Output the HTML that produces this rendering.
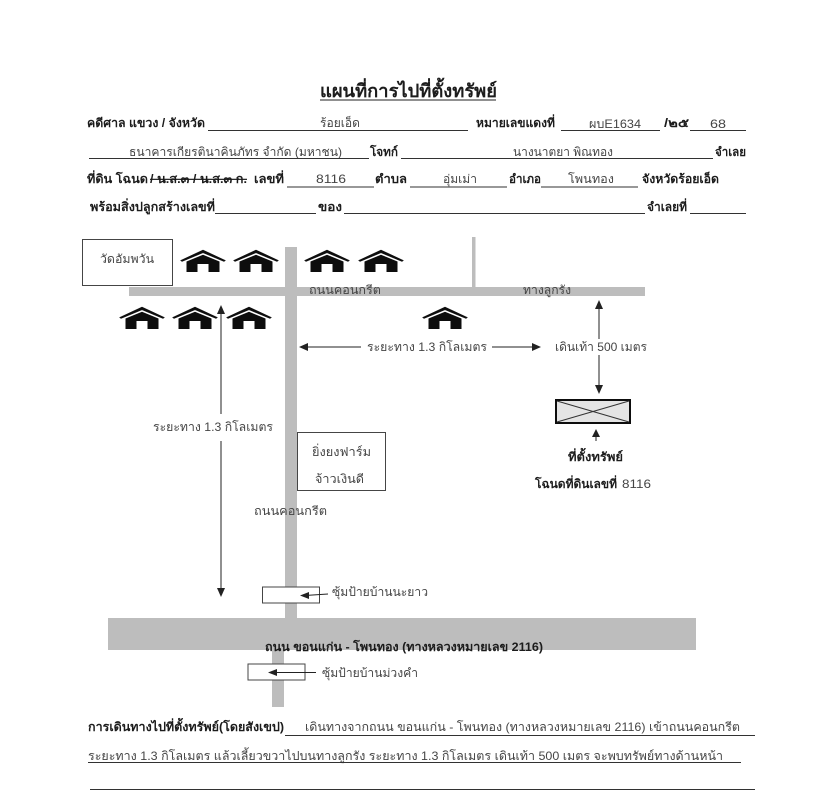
<!DOCTYPE html>
<html lang="th"><head><meta charset="utf-8"><title>แผนที่การไปที่ตั้งทรัพย์</title>
<style>
html,body{margin:0;padding:0;background:#fff}
svg{display:block}
text{font-family:"Liberation Sans","Noto Sans CJK SC","WenQuanYi Zen Hei",sans-serif;font-size:12px;fill:#444}
.b{font-weight:bold;fill:#1a1a1a}
.l{stroke:#333;stroke-width:1;fill:none}
.road{fill:#bdbdbd}
.a{stroke:#222;stroke-width:1;fill:none}
.h{fill:#222}
</style></head><body>
<svg width="813" height="800" viewBox="0 0 813 800" xmlns="http://www.w3.org/2000/svg">
<defs>
<filter id="soft" x="0" y="0" width="100%" height="100%"><feGaussianBlur stdDeviation="0.35"/></filter>
<g id="house">
<path d="M-22.500 10.500 L0 0 L22.500 10.500 L21 11.500 L0 2.800 L-21 11.500Z" fill="#111" stroke="#111" stroke-width="0.5"/>
<path d="M-16.500 11.500 L0 4.800 L16.500 11.500 V22 H5.500 V14 H-5.500 V22 H-16.500Z" fill="#111"/>
</g>
</defs>
<g filter="url(#soft)">
<rect width="813" height="800" fill="#fff"/>
<text x="320" y="97" class="b" style="font-size:18px;font-family:'Liberation Serif','Noto Serif CJK SC',serif" textLength="177" lengthAdjust="spacingAndGlyphs">แผนที่การไปที่ตั้งทรัพย์</text>
<line x1="320" y1="100" x2="496" y2="100" stroke="#222" stroke-width="1"/>

<text x="87" y="127" class="b" textLength="118" lengthAdjust="spacingAndGlyphs">คดีศาล แขวง / จังหวัด</text>
<line class="l" x1="208" y1="130.500" x2="468" y2="130.500"/>
<text x="320" y="127" textLength="40" lengthAdjust="spacingAndGlyphs">ร้อยเอ็ด</text>
<text x="476" y="127" class="b" textLength="79" lengthAdjust="spacingAndGlyphs">หมายเลขแดงที่</text>
<line class="l" x1="561" y1="130.500" x2="660" y2="130.500"/>
<text x="589" y="128" textLength="52" lengthAdjust="spacingAndGlyphs">ผบE1634</text>
<text x="664" y="127" class="b" textLength="25" lengthAdjust="spacingAndGlyphs">/๒๕</text>
<line class="l" x1="690" y1="130.500" x2="746" y2="130.500"/>
<text x="710" y="128" textLength="16" lengthAdjust="spacingAndGlyphs">68</text>

<text x="129" y="156" textLength="213" lengthAdjust="spacingAndGlyphs">ธนาคารเกียรตินาคินภัทร จำกัด (มหาชน)</text>
<line class="l" x1="89" y1="158.500" x2="369" y2="158.500"/>
<text x="370" y="156" class="b" textLength="28" lengthAdjust="spacingAndGlyphs">โจทก์</text>
<line class="l" x1="401" y1="158.500" x2="713" y2="158.500"/>
<text x="513" y="156" textLength="100" lengthAdjust="spacingAndGlyphs">นางนาตยา พิณทอง</text>
<text x="715" y="156" class="b" textLength="31" lengthAdjust="spacingAndGlyphs">จำเลย</text>

<text x="87" y="183" class="b" textLength="61" lengthAdjust="spacingAndGlyphs">ที่ดิน โฉนด</text>
<text x="150" y="183" class="b" textLength="97" lengthAdjust="spacingAndGlyphs" style="text-decoration:line-through">/ น.ส.๓ / น.ส.๓ ก.</text>
<text x="254" y="183" class="b" textLength="30" lengthAdjust="spacingAndGlyphs">เลขที่</text>
<line class="l" x1="287" y1="187" x2="374" y2="187"/>
<text x="316" y="183" textLength="30" lengthAdjust="spacingAndGlyphs">8116</text>
<text x="375" y="183" class="b" textLength="32" lengthAdjust="spacingAndGlyphs">ตำบล</text>
<line class="l" x1="410" y1="187" x2="507" y2="187"/>
<text x="443" y="183" textLength="34" lengthAdjust="spacingAndGlyphs">อุ่มเม่า</text>
<text x="509" y="183" class="b" textLength="32" lengthAdjust="spacingAndGlyphs">อำเภอ</text>
<line class="l" x1="541" y1="187" x2="638" y2="187"/>
<text x="568" y="183" textLength="46" lengthAdjust="spacingAndGlyphs">โพนทอง</text>
<text x="642" y="183" class="b" textLength="77" lengthAdjust="spacingAndGlyphs">จังหวัดร้อยเอ็ด</text>

<text x="90" y="211" class="b" textLength="125" lengthAdjust="spacingAndGlyphs">พร้อมสิ่งปลูกสร้างเลขที่</text>
<line class="l" x1="215" y1="213.500" x2="316" y2="213.500"/>
<text x="318" y="211" class="b" textLength="24" lengthAdjust="spacingAndGlyphs">ของ</text>
<line class="l" x1="344" y1="213.500" x2="645" y2="213.500"/>
<text x="647" y="211" class="b" textLength="40" lengthAdjust="spacingAndGlyphs">จำเลยที่</text>
<line class="l" x1="690" y1="213.500" x2="746" y2="213.500"/>

<!-- roads -->
<rect class="road" x="285" y="247" width="12" height="372"/>
<rect class="road" x="129" y="287" width="516" height="9"/>
<rect class="road" x="472" y="237" width="3.500" height="52"/>
<rect class="road" x="108" y="618" width="588" height="32"/>
<rect class="road" x="272" y="650" width="12" height="57"/>

<!-- boxes -->
<rect x="82.500" y="239.500" width="90" height="46" fill="#fff" stroke="#444"/>
<text x="100" y="263" textLength="54" lengthAdjust="spacingAndGlyphs">วัดอัมพวัน</text>
<rect x="297.500" y="432.500" width="88" height="58" fill="#fff" stroke="#444"/>
<text x="312" y="456" textLength="59" lengthAdjust="spacingAndGlyphs">ยิ่งยงฟาร์ม</text>
<text x="315" y="483" textLength="49" lengthAdjust="spacingAndGlyphs">จ้าวเงินดี</text>

<!-- houses -->
<use href="#house" x="203" y="250"/>
<use href="#house" x="256" y="250"/>
<use href="#house" x="327" y="250"/>
<use href="#house" x="381" y="250"/>
<use href="#house" x="142" y="307"/>
<use href="#house" x="195" y="307"/>
<use href="#house" x="249" y="307"/>
<use href="#house" x="445" y="307"/>

<!-- road labels -->
<text x="309" y="294" textLength="72" lengthAdjust="spacingAndGlyphs">ถนนคอนกรีต</text>
<text x="523" y="294" textLength="48" lengthAdjust="spacingAndGlyphs">ทางลูกรัง</text>
<text x="254" y="515" textLength="73" lengthAdjust="spacingAndGlyphs">ถนนคอนกรีต</text>
<text x="265" y="651" class="b" textLength="278" lengthAdjust="spacingAndGlyphs">ถนน ขอนแก่น - โพนทอง (ทางหลวงหมายเลข 2116)</text>

<!-- distance arrows -->
<line class="a" x1="221" y1="312" x2="221" y2="414"/>
<path class="h" d="M221 305 L225 314 H217Z"/>
<line class="a" x1="221" y1="441" x2="221" y2="591"/>
<path class="h" d="M221 597 L225 588 H217Z"/>
<text x="153" y="431" textLength="120" lengthAdjust="spacingAndGlyphs">ระยะทาง 1.3 กิโลเมตร</text>

<line class="a" x1="305" y1="347" x2="361" y2="347"/>
<path class="h" d="M299 347 L308 343 V351Z"/>
<text x="367" y="351" textLength="120" lengthAdjust="spacingAndGlyphs">ระยะทาง 1.3 กิโลเมตร</text>
<line class="a" x1="492" y1="347" x2="535" y2="347"/>
<path class="h" d="M541 347 L532 343 V351Z"/>

<text x="555" y="351" textLength="92" lengthAdjust="spacingAndGlyphs">เดินเท้า 500 เมตร</text>
<line class="a" x1="599" y1="306" x2="599" y2="339"/>
<path class="h" d="M599 300 L603 309 H595Z"/>
<line class="a" x1="599" y1="355" x2="599" y2="388"/>
<path class="h" d="M599 394 L603 385 H595Z"/>

<!-- property marker -->
<rect x="556" y="400" width="74" height="23" fill="#e4e4e4" stroke="#111" stroke-width="2"/>
<path d="M557 401 L629 422 M629 401 L557 422" stroke="#333" stroke-width="1" fill="none"/>
<line class="a" x1="596" y1="433" x2="596" y2="441"/>
<path class="h" d="M596 429 L600 437 H592Z"/>
<text x="568" y="461" class="b" textLength="55" lengthAdjust="spacingAndGlyphs">ที่ตั้งทรัพย์</text>
<text x="535" y="488" class="b" textLength="82" lengthAdjust="spacingAndGlyphs">โฉนดที่ดินเลขที่</text>
<text x="622" y="488" textLength="29" lengthAdjust="spacingAndGlyphs">8116</text>

<!-- signs -->
<rect x="262.500" y="587" width="57" height="16" fill="#fff" stroke="#444"/>
<line class="a" x1="305" y1="595.500" x2="328" y2="594"/>
<path class="h" d="M300 595.500 L309 592 V599Z"/>
<text x="332" y="596" textLength="96" lengthAdjust="spacingAndGlyphs">ซุ้มป้ายบ้านนะยาว</text>
<rect x="248" y="664" width="57" height="16" fill="#fff" stroke="#444"/>
<line class="a" x1="275" y1="672.500" x2="316" y2="672.500"/>
<path class="h" d="M268 672.500 L277 669 V676Z"/>
<text x="322" y="677" textLength="96" lengthAdjust="spacingAndGlyphs">ซุ้มป้ายบ้านม่วงคำ</text>

<!-- directions -->
<text x="88" y="731" class="b" textLength="196" lengthAdjust="spacingAndGlyphs">การเดินทางไปที่ตั้งทรัพย์(โดยสังเขป)</text>
<line class="l" x1="285" y1="735.500" x2="755" y2="735.500"/>
<text x="305" y="731" textLength="435" lengthAdjust="spacingAndGlyphs">เดินทางจากถนน ขอนแก่น - โพนทอง (ทางหลวงหมายเลข 2116) เข้าถนนคอนกรีต</text>
<text x="88" y="760" textLength="635" lengthAdjust="spacingAndGlyphs">ระยะทาง 1.3 กิโลเมตร  แล้วเลี้ยวขวาไปบนทางลูกรัง ระยะทาง 1.3 กิโลเมตร เดินเท้า 500 เมตร จะพบทรัพย์ทางด้านหน้า</text>
<line class="l" x1="88" y1="762.500" x2="741" y2="762.500"/>
<line class="l" x1="90" y1="789.500" x2="755" y2="789.500"/>
</g>
</svg>
</body></html>
